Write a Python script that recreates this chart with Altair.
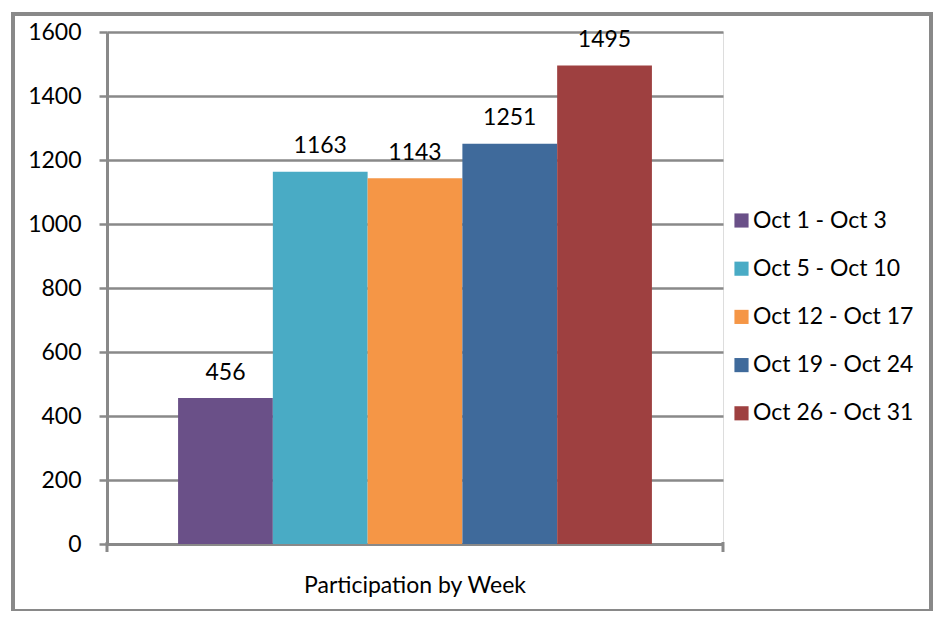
import altair as alt
import pandas as pd

categories = ["Participation by Week"]
series = ["Oct 1 - Oct 3", "Oct 5 - Oct 10", "Oct 12 - Oct 17", "Oct 19 - Oct 24", "Oct 26 - Oct 31"]
values = [456, 1163, 1143, 1251, 1495]
colors = ["#6A5088", "#49ABC5", "#F59646", "#3F6A9B", "#9E4040"]
y_ticks = [0, 200, 400, 600, 800, 1000, 1200, 1400, 1600]

FONT = "Lato"
FS = 23
GRAY = "#898989"

df = pd.DataFrame({
    "category": categories * len(series),
    "series": series,
    "value": values,
})

x_enc = alt.X(
    "category:N",
    scale=alt.Scale(paddingInner=0, paddingOuter=0.15),
    axis=alt.Axis(title=None, labelAngle=0, ticks=False, domain=True,
                  domainColor=GRAY, domainWidth=3, labelFont=FONT,
                  labelFontSize=FS, labelPadding=30, labelColor="black",
                  labelLimit=500),
)
xo_enc = alt.XOffset("series:N", sort=series,
                     scale=alt.Scale(paddingInner=0, paddingOuter=0))
y_enc = alt.Y(
    "value:Q",
    scale=alt.Scale(domain=[0, 1600], nice=False),
    axis=alt.Axis(values=y_ticks, format="d", title=None, grid=True,
                  gridColor=GRAY, gridWidth=2.5, tickSize=8, tickColor=GRAY,
                  tickWidth=2.5, domainColor=GRAY, domainWidth=3,
                  labelFont=FONT, labelFontSize=FS, labelPadding=18,
                  labelColor="black"),
)

base = alt.Chart(df)

bars = base.mark_bar().encode(
    x=x_enc,
    xOffset=xo_enc,
    y=y_enc,
    color=alt.Color(
        "series:N", sort=series,
        scale=alt.Scale(domain=series, range=colors),
        legend=alt.Legend(
            title=None, orient="none", legendX=623, legendY=177,
            symbolType="square", symbolSize=200, symbolStrokeWidth=0,
            labelFont=FONT, labelFontSize=FS, labelColor="black",
            rowPadding=24.2, labelOffset=0, labelLimit=300,
        ),
    ),
)

labels = base.mark_text(dy=-18.5, baseline="alphabetic", font=FONT,
                        fontSize=FS, color="black").encode(
    x=x_enc, xOffset=xo_enc, y=y_enc, text="value:Q"
)

deco = alt.Chart(alt.Data(values=[{}]))
border = deco.mark_rect(filled=False, stroke=GRAY, strokeWidth=4).encode(
    x=alt.value(-94), x2=alt.value(824), y=alt.value(-18), y2=alt.value(579)
)
tick_left = deco.mark_rule(color=GRAY, strokeWidth=3).encode(
    x=alt.value(0), y=alt.value(510), y2=alt.value(520)
)
tick_right = deco.mark_rule(color=GRAY, strokeWidth=3).encode(
    x=alt.value(616), y=alt.value(510), y2=alt.value(520)
)

chart = alt.layer(bars, labels, border, tick_left, tick_right).properties(
    width=616, height=512,
    autosize=alt.AutoSizeParams(type="none"),
    padding={"left": 99, "top": 24, "right": 210, "bottom": 67},
).configure_view(stroke=None).configure(background="white")

chart.save("out.html", embed_options={"renderer": "svg", "actions": False})
